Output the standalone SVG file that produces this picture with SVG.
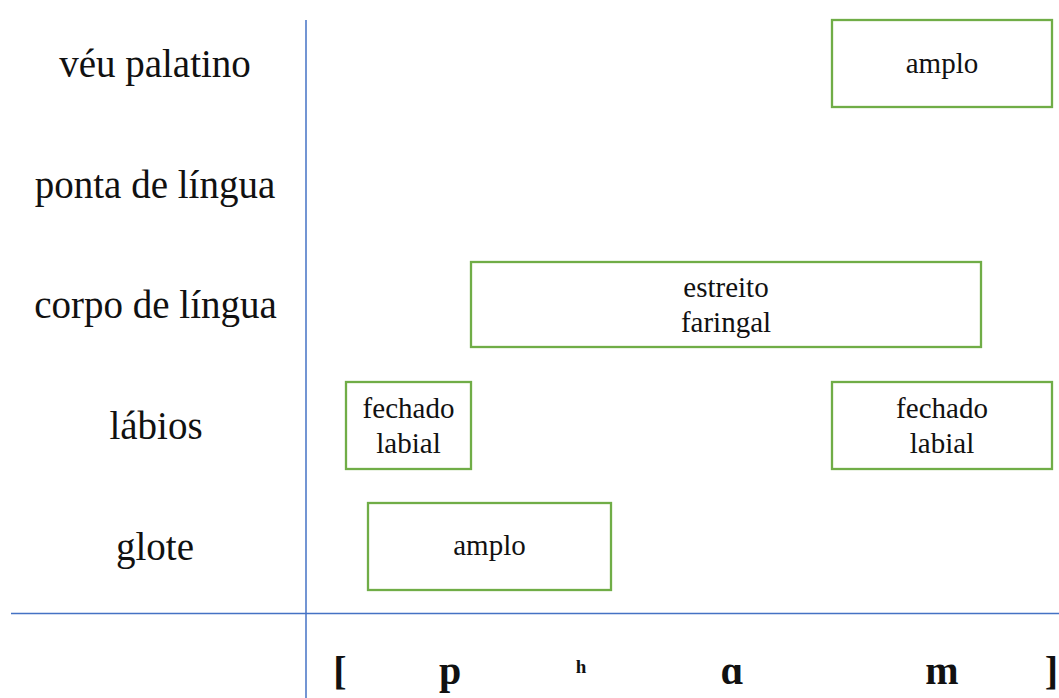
<svg xmlns="http://www.w3.org/2000/svg" width="1059" height="698" viewBox="0 0 1059 698">
  <style>
    .lbl { font-family: "Liberation Serif", "Times New Roman", serif; font-size: 39px; fill: #111; text-anchor: middle; }
    .box rect { fill: #ffffff; stroke: #70AD47; stroke-width: 2.3; }
    .box text { font-family: "Liberation Serif", "Times New Roman", serif; font-size: 29px; fill: #111; text-anchor: middle; }
    .seg { font-family: "Liberation Serif", "Times New Roman", serif; font-size: 40px; font-weight: bold; fill: #111; text-anchor: middle; }
    .sup { font-family: "Liberation Serif", "Times New Roman", serif; font-size: 19px; font-weight: bold; fill: #111; text-anchor: middle; }
    .axis { stroke: #4472C4; stroke-width: 1.5; fill: none; }
  </style>
  <rect x="0" y="0" width="1059" height="698" fill="#ffffff"/>

  <g id="axes">
    <line class="axis" x1="306" y1="20" x2="306" y2="698"/>
    <line class="axis" x1="11" y1="613.5" x2="1059" y2="613.5"/>
  </g>

  <g id="row-labels">
    <text class="lbl" x="155" y="77">véu palatino</text>
    <text class="lbl" x="155" y="197.5">ponta de língua</text>
    <text class="lbl" x="155.5" y="318">corpo de língua</text>
    <text class="lbl" x="156" y="439">lábios</text>
    <text class="lbl" x="155" y="560">glote</text>
  </g>

  <g id="box-veu-amplo" class="box">
    <rect x="832" y="20" width="220" height="87"/>
    <text x="942" y="73">amplo</text>
  </g>

  <g id="box-corpo-estreito" class="box">
    <rect x="471" y="262" width="510" height="85"/>
    <text x="726" y="297">estreito</text>
    <text x="726" y="332">faringal</text>
  </g>

  <g id="box-labios-fechado-1" class="box">
    <rect x="346" y="382" width="125" height="87"/>
    <text x="408.5" y="418">fechado</text>
    <text x="408.5" y="453">labial</text>
  </g>

  <g id="box-labios-fechado-2" class="box">
    <rect x="832" y="382" width="220" height="87"/>
    <text x="942" y="418">fechado</text>
    <text x="942" y="453">labial</text>
  </g>

  <g id="box-glote-amplo" class="box">
    <rect x="368" y="503" width="243" height="87"/>
    <text x="489.5" y="555">amplo</text>
  </g>

  <g id="transcription">
    <text class="seg" x="340" y="684">[</text>
    <text class="seg" x="450" y="684">p</text>
    <text class="sup" x="581" y="673">h</text>
    <text class="seg" x="732" y="684">ɑ</text>
    <text class="seg" x="942" y="684">m</text>
    <text class="seg" x="1051.5" y="684">]</text>
  </g>
</svg>
